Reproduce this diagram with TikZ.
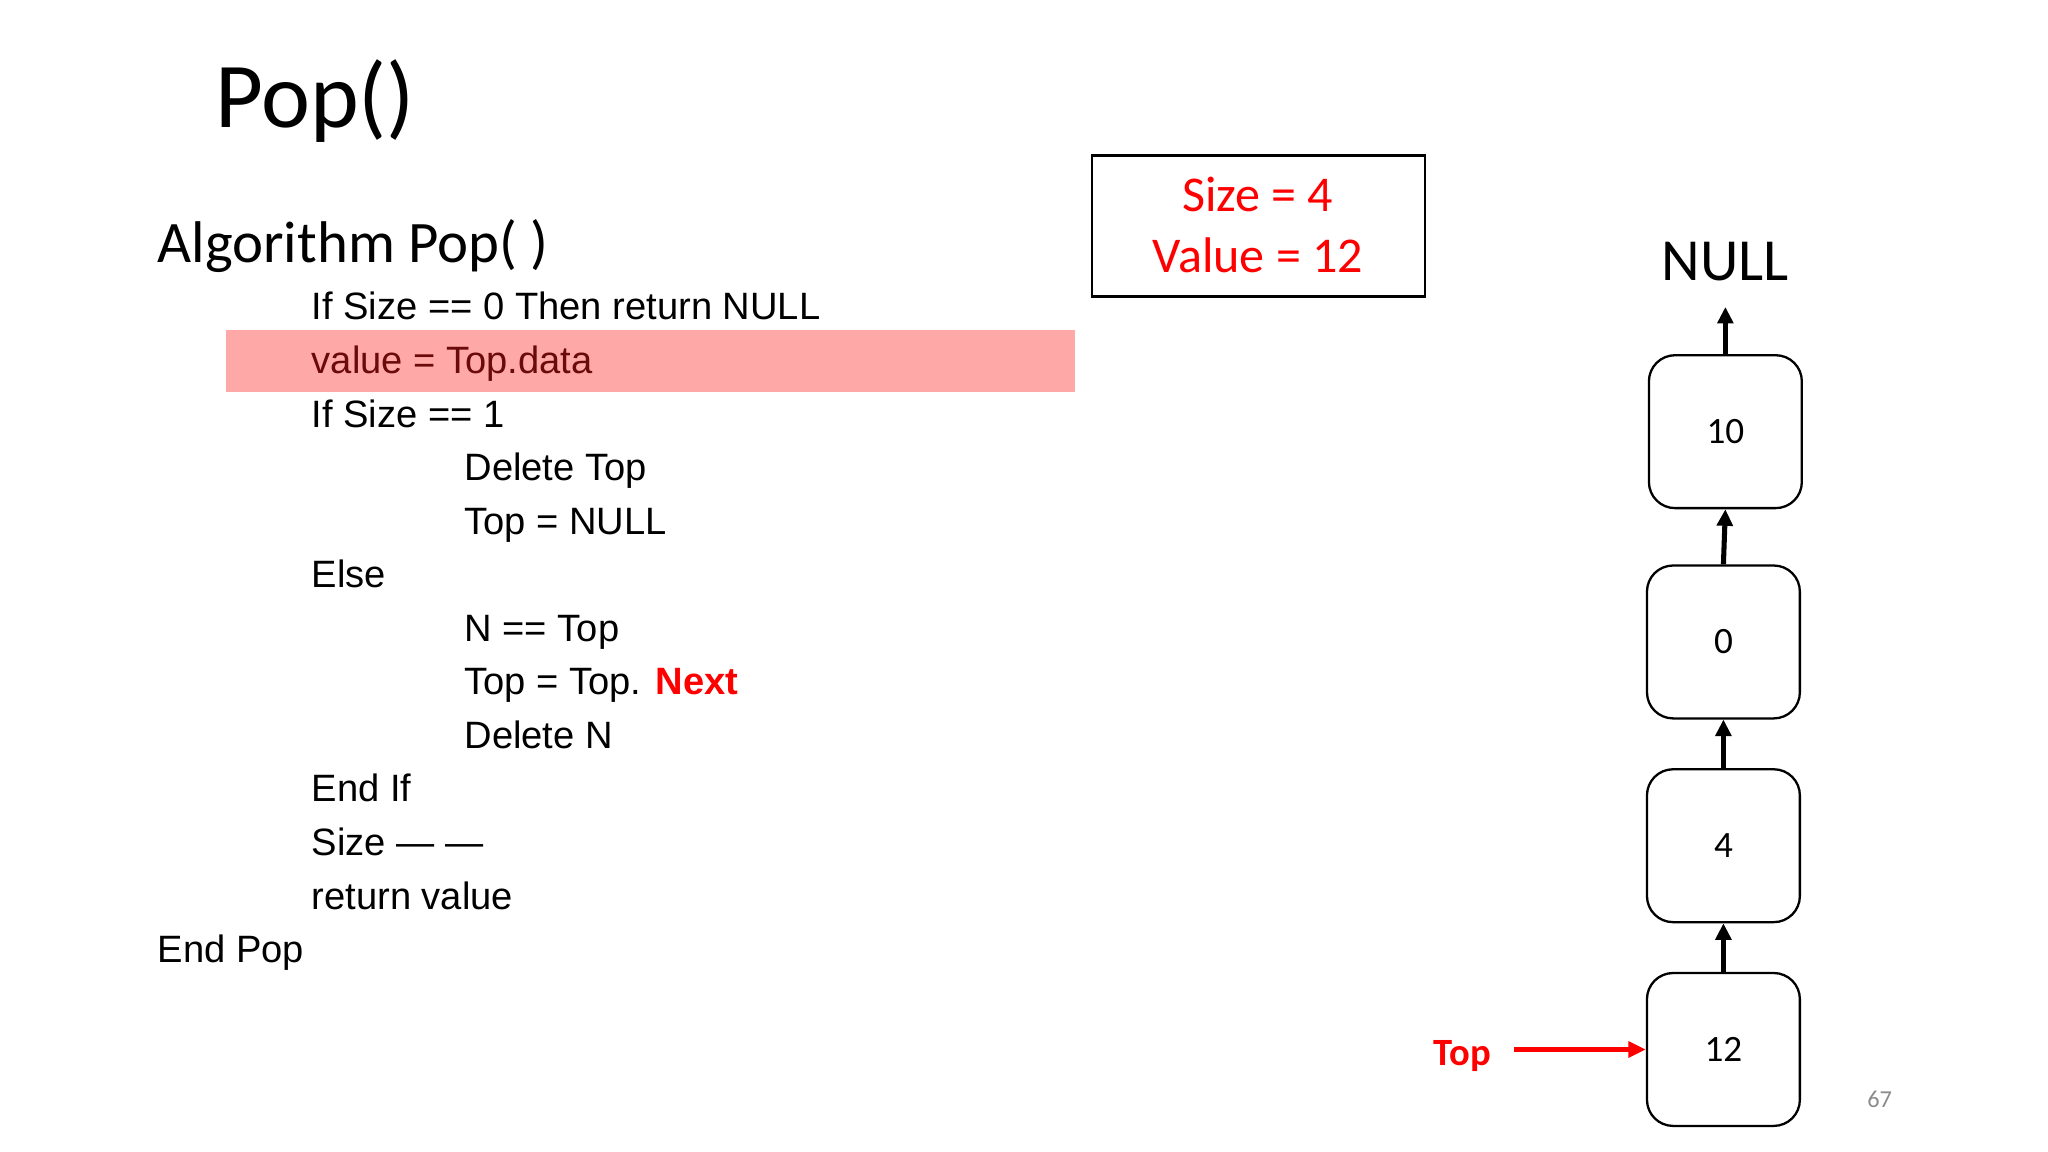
\documentclass[tikz,border=0pt]{standalone}
\usepackage{fontspec}
\setmainfont{Carlito}
\newfontfamily\arialf{Liberation Sans}
\usetikzlibrary{arrows.meta}
\definecolor{hl}{HTML}{FFA8A8}
\definecolor{hltext}{HTML}{6B0A0A}
\definecolor{pred}{HTML}{FF0000}
\definecolor{pnum}{HTML}{8C8C8C}
\tikzset{
  txt/.style={inner sep=0pt, anchor=base west},
  codeline/.style={txt, font=\arialf\fontsize{8.3}{9}\selectfont},
  listnode/.style={draw, line width=0.5pt, rounded corners=0.2cm, minimum width=1.17cm, minimum height=1.17cm, inner sep=0pt, font=\fontsize{8.1}{9}\selectfont},
  linkarrow/.style={line width=1.1pt, -{Triangle[length=3.6pt,width=3.4pt]}},
  redarrow/.style={pred, line width=1pt, -{Triangle[length=3.8pt,width=3.4pt]}},
}
\begin{document}
\begin{tikzpicture}[x=0.01cm,y=-0.01cm]
\useasboundingbox (0,0) rectangle (1568,882);
% title
\node[txt, font=\fontsize{20.2}{22}\selectfont] (title) at (164,98) {Pop()};
\node[txt, font=\fontsize{12.8}{15}\selectfont] (head) at (120,201) {Algorithm Pop( )};
% highlight
\fill[hl] (173,253) rectangle (823,300);
% code lines
\node[codeline] (l1) at (238,245) {If Size == 0 Then return NULL};
\node[codeline, text=hltext] (l2) at (238,286) {value = Top.data};
\node[codeline] (l3) at (238,327) {If Size == 1};
\node[codeline] (l4) at (355,368) {Delete Top};
\node[codeline] (l5) at (355,409) {Top = NULL};
\node[codeline] (l6) at (238,450) {Else};
\node[codeline] (l7) at (355,491) {N == Top};
\node[codeline] (l8) at (355,532) {Top = Top. \textcolor{pred}{\bfseries Next}};
\node[codeline] (l9) at (355,573) {Delete N};
\node[codeline] (l10) at (238,614) {End If};
\node[codeline] (l11) at (238,655) {Size — —};
\node[codeline] (l12) at (238,696) {return value};
\node[codeline] (l13) at (120,737) {End Pop};
% info box
\node[draw, line width=0.5pt, minimum width=2.55cm, minimum height=1.08cm, inner sep=0pt] (info) at (963.5,173) {};
\node[inner sep=0pt, anchor=base, text=pred, font=\fontsize{10.9}{12}\selectfont] (sz) at (963,162) {Size = 4};
\node[inner sep=0pt, anchor=base, text=pred, font=\fontsize{10.9}{12}\selectfont] (val) at (963,209) {Value = 12};
% list
\node[inner sep=0pt, anchor=base, font=\fontsize{13}{14}\selectfont] (null) at (1321,215) {NULL};
\coordinate (nulltip) at (1321,235);
\node[listnode] (n10) at (1321,330.5) {10};
\node[listnode] (n0) at (1319.5,491.5) {0};
\node[listnode] (n4) at (1319.5,647.5) {4};
\node[listnode] (n12) at (1319.5,803.5) {12};
\draw[linkarrow] (n10.north) -- (nulltip);
\draw[linkarrow] (n0.north) -- (n10.south);
\draw[linkarrow] (n4.north) -- (n0.south);
\draw[linkarrow] (n12.north) -- (n4.south);
% top pointer
\node[txt, text=pred, font=\bfseries\fontsize{8.4}{10}\selectfont] (toplbl) at (1097,816) {Top};
\draw[redarrow, shorten <=0.17cm] (toplbl.east |- n12.west) -- (n12.west);
% page number
\node[txt, text=pnum, font=\fontsize{5.3}{6}\selectfont] (pg) at (1429,848) {67};
\end{tikzpicture}
\end{document}
